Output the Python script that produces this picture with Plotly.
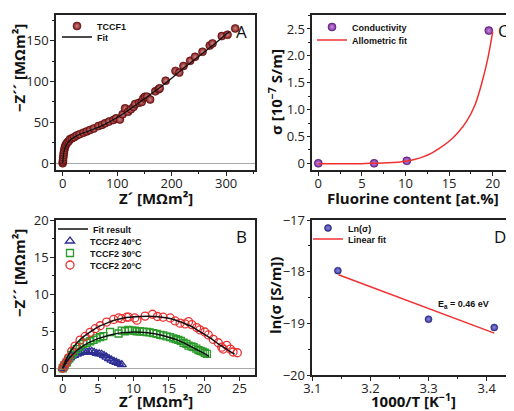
import plotly.graph_objects as go

# ---------------- Panel A data (TCCF1) ----------------
a_x = [0, 0.3, 0.6, 1, 1.5, 2, 2.8, 3.8, 5, 6.5, 8.5, 11, 13.4, 17, 21, 25.7, 31, 38, 44, 50,
       57, 65.5, 72, 77.8, 85, 93, 98, 105, 110, 114.5, 120, 125, 130, 133, 140, 145, 148, 151,
       155, 160.5, 170, 176, 178, 189, 207, 214, 221.7, 234, 243, 256.6, 270, 275, 292, 302.6, 316.7]
a_y = [0, 2, 4, 7, 10, 13, 16, 19, 21.5, 23.5, 25.5, 27, 29.5, 30.5, 32, 34, 35.5, 37.5, 39, 40.7,
       42.5, 45.5, 47, 48.9, 51, 53, 55, 53.5, 60, 67.2, 63, 66, 69, 72.5, 74, 75, 79.5, 81.4,
       81.5, 78, 88, 90.5, 91.7, 101, 113, 111, 119, 125.4, 130.3, 136.4, 144, 146.7, 155.6, 157.3, 165]
a_fit_x = [0, 0.5, 1, 2, 4, 8, 15, 30, 50, 75, 100, 125, 150, 175, 200, 225, 250, 275, 300, 306]
a_fit_y = [0, 4, 8, 13, 18.5, 24, 29, 35, 40, 47, 56, 67, 79, 91, 104, 118, 131, 144, 158, 161]

# ---------------- Panel B data (TCCF2) ----------------
b20_x = [0, 0.2, 0.47, 0.8, 1.27, 1.75, 2.45, 3.16, 3.87, 4.6, 5.3, 6.2, 7.2, 7.9, 8.35, 9.05, 9.3,
         10.2, 10.5, 11.65, 12.7, 13.4, 14.2, 15.2, 15.9, 16.6, 17.3, 17.8, 18.25, 18.95, 19.4, 20.1,
         20.6, 21.3, 22.0, 22.5, 22.7, 23.2, 23.7, 24.1, 24.7]
b20_y = [0, 0.4, 0.8, 1.4, 2.3, 3.0, 3.8, 4.3, 4.85, 5.35, 5.75, 6.25, 6.6, 6.8, 6.7, 6.9, 6.9,
         6.8, 6.5, 7.05, 7.3, 7.0, 6.9, 6.8, 6.4, 6.1, 6.0, 6.3, 5.9, 5.5, 5.2, 4.9,
         4.5, 3.9, 3.45, 2.85, 2.6, 3.1, 2.6, 2.2, 2.1]
b30_x = [0, 0.25, 0.57, 0.9, 1.27, 1.6, 2, 2.4, 2.9, 3.4, 3.9, 4.35, 4.8, 5.3, 5.75, 6.7, 7.9, 8.35,
         8.8, 9.3, 9.8, 10.2, 10.5, 10.9, 11.4, 11.9, 12.3, 12.8, 13.3, 13.8, 14.2, 14.7, 15.2, 15.65,
         16.0, 16.35, 16.7, 17.1, 17.5, 17.8, 18.2, 18.5, 18.9, 19.2, 19.5, 19.8, 20.1, 20.4]
b30_y = [0, 0.4, 0.8, 1.3, 1.8, 2.2, 2.6, 2.9, 3.25, 3.45, 3.65, 3.85, 4.05, 4.2, 4.35, 4.9, 4.7, 5.1,
         5.0, 5.2, 5.1, 5.1, 5.0, 5.0, 4.95, 4.9, 4.85, 4.75, 4.65, 4.5, 4.45, 4.3, 4.2, 4.05,
         3.95, 3.85, 3.7, 3.45, 3.3, 3.05, 2.95, 2.85, 2.65, 2.45, 2.35, 2.25, 2.1, 1.95]
b40_x = [0, 0.15, 0.33, 0.55, 0.8, 1.05, 1.27, 1.6, 2, 2.35, 2.7, 3.05, 3.4, 3.75, 4.1, 4.45, 4.8,
         5.15, 5.5, 5.85, 6.2, 6.55, 6.9, 7.25, 7.6, 7.95, 8.35]
b40_y = [0, 0.3, 0.6, 0.9, 1.2, 1.4, 1.6, 1.75, 1.9, 2.05, 2.15, 2.2, 2.2, 2.25, 2.3, 2.15, 2.0,
         1.95, 1.9, 1.7, 1.5, 1.3, 1.1, 0.95, 0.8, 0.65, 0.5]
b20_fit_x = [0, 0.5, 1, 2, 3, 4, 5, 6, 7, 8, 9, 10, 11, 12, 13, 14, 15, 16, 17, 18, 19, 20, 21, 22, 23, 24.3]
b20_fit_y = [0, 1.2, 2.1, 3.4, 4.3, 5.0, 5.6, 6.0, 6.4, 6.65, 6.85, 6.95, 7.0, 7.02, 7.0, 6.9, 6.75,
             6.5, 6.15, 5.75, 5.2, 4.6, 4.0, 3.3, 2.7, 1.9]
b30_fit_x = [0, 0.5, 1, 2, 3, 4, 5, 6, 7, 8, 9, 10, 11, 12, 13, 14, 15, 16, 17, 18, 19, 20, 20.7]
b30_fit_y = [0, 0.8, 1.45, 2.4, 3.1, 3.6, 4.0, 4.3, 4.55, 4.75, 4.85, 4.9, 4.88, 4.8, 4.65, 4.45,
             4.2, 3.9, 3.5, 3.0, 2.5, 2.0, 1.6]
b40_fit_x = [0, 0.5, 1, 2, 3, 4, 5, 6, 7, 8, 8.3]
b40_fit_y = [0, 0.9, 1.4, 1.85, 2.05, 2.1, 2.0, 1.75, 1.35, 0.85, 0.6]

# ---------------- Panel C data ----------------
c_x = [0, 6.4, 10.15, 19.55]
c_y = [0, 0, 0.045, 2.47]
c_fit_x = [0, 2, 4, 6, 8, 10, 11, 12, 13, 14, 15, 16, 17, 18, 19, 19.5, 20]
c_fit_y = [-0.01, -0.01, -0.01, 0.0, 0.01, 0.04, 0.07, 0.12, 0.19, 0.29, 0.41, 0.57, 0.78, 1.1,
           1.65, 2.0, 2.45]

# ---------------- Panel D data ----------------
d_x = [3.144, 3.300, 3.413]
d_y = [-17.98, -18.92, -19.08]
d_fit_x = [3.145, 3.413]
d_fit_y = [-18.06, -19.19]

# Axis titles: (text, centre x px, centre y px, angle)
axis_titles = [
    ("Z´ [MΩm²]", 155.5, 198, 0),
    ("−Z´´ [MΩm²]", 19, 68, -90),
    ("Fluorine content [at.%]", 413, 198, 0),
    ("σ [10<sup>−7</sup> S/m]", 276, 92, -90),
    ("Z´ [MΩm²]", 155.5, 401, 0),
    ("−Z´´ [MΩm²]", 19, 273, -90),
    ("1000/T [K<sup>−1</sup>]", 413, 400.5, 0),
    ("ln(σ [S/m])", 275, 296, -90),
]

# The page body has an 8 px default margin, so the figure is drawn 8 px in and
# sized to fill the rest of the 514x411 window.
OFF = 8
W, H = 514 - OFF, 411 - OFF


def px(x):
    return (x - OFF) / W


def py(y):
    return 1 - (y - OFF) / H


TICKFONT = dict(family="Open Sans", size=13, color="#222")
TITLEFONT = dict(family="Open Sans", size=15, color="#111", weight="bold")
LEGFONT = dict(family="Liberation Sans", size=9, color="#111", weight="bold")


def axis(letter, domain, rng, dtick, minor_dtick, mirror=True, zeroline=False,
         tickvals=None, ticktext=None, tick0=0):
    d = dict(domain=domain, range=rng, showline=True, linecolor="#222", linewidth=1.5,
             mirror=mirror, ticks="outside", ticklen=4, tickwidth=1.2, tickcolor="#222",
             dtick=dtick, tick0=tick0, showgrid=False, zeroline=zeroline, zerolinecolor="#aaa",
             zerolinewidth=1, tickfont=TICKFONT, automargin=False,
             ticklabelstandoff=-3 if letter == "x" else -1,
             minor=dict(ticks="outside", ticklen=2.5, tickwidth=1.2, tickcolor="#222",
                        dtick=minor_dtick, tick0=tick0, showgrid=False))
    if tickvals is not None:
        d["tickmode"] = "array"
        d["tickvals"] = tickvals
        d["ticktext"] = ticktext
    return d


fig = go.Figure()

# Panel A
fig.add_trace(go.Scatter(x=a_x, y=a_y, mode="markers", name="TCCF1", xaxis="x", yaxis="y",
                         legend="legend",
                         marker=dict(size=8, color="#7e1414", line=dict(width=0.6, color="#550a0a"),
                                     gradient=dict(type="radial", color="#d08a8a"))))
fig.add_trace(go.Scatter(x=a_fit_x, y=a_fit_y, mode="lines", name="Fit", xaxis="x", yaxis="y",
                         legend="legend2", line=dict(color="#111", width=1.3, shape="spline")))

# Panel C
fig.add_trace(go.Scatter(x=c_x, y=c_y, mode="markers", name="Conductivity", xaxis="x2", yaxis="y2",
                         legend="legend3",
                         marker=dict(size=8, color="#7a2a9a", line=dict(width=0.6, color="#4a1066"),
                                     gradient=dict(type="radial", color="#c890e0"))))
fig.add_trace(go.Scatter(x=c_fit_x, y=c_fit_y, mode="lines", name="Allometric fit", xaxis="x2",
                         yaxis="y2", legend="legend4",
                         line=dict(color="#f03030", width=1.5, shape="spline")))

# Panel B
fig.add_trace(go.Scatter(x=b40_fit_x, y=b40_fit_y, mode="lines", name="Fit result", xaxis="x3",
                         yaxis="y3", legend="legend5", showlegend=True,
                         line=dict(color="#111", width=1.5, shape="spline")))
fig.add_trace(go.Scatter(x=b40_x, y=b40_y, mode="markers", name="TCCF2 40°C", xaxis="x3", yaxis="y3",
                         legend="legend6",
                         marker=dict(symbol="triangle-up-open", size=8, color="#2e2e96",
                                     line=dict(width=1.3))))
fig.add_trace(go.Scatter(x=b30_x, y=b30_y, mode="markers", name="TCCF2 30°C", xaxis="x3", yaxis="y3",
                         legend="legend7",
                         marker=dict(symbol="square-open", size=7, color="#2a9a2a",
                                     line=dict(width=1.3))))
fig.add_trace(go.Scatter(x=b20_x, y=b20_y, mode="markers", name="TCCF2 20°C", xaxis="x3", yaxis="y3",
                         legend="legend8",
                         marker=dict(symbol="circle-open", size=8, color="#e83030",
                                     line=dict(width=1.3))))
fig.add_trace(go.Scatter(x=b30_fit_x, y=b30_fit_y, mode="lines", name="Fit result", xaxis="x3",
                         yaxis="y3", showlegend=False,
                         line=dict(color="#111", width=1.5, shape="spline")))
fig.add_trace(go.Scatter(x=b20_fit_x, y=b20_fit_y, mode="lines", name="Fit result", xaxis="x3",
                         yaxis="y3", showlegend=False,
                         line=dict(color="#111", width=1.5, shape="spline")))

# Panel D
fig.add_trace(go.Scatter(x=d_x, y=d_y, mode="markers", name="Ln(σ)", xaxis="x4", yaxis="y4",
                         legend="legend9",
                         marker=dict(size=7, color="#30309a", line=dict(width=0.5, color="#1a1a60"),
                                     gradient=dict(type="radial", color="#9090e0"))))
fig.add_trace(go.Scatter(x=d_fit_x, y=d_fit_y, mode="lines", name="Linear fit", xaxis="x4",
                         yaxis="y4", legend="legend10", line=dict(color="#f03030", width=1.5)))

dom_ax = [px(56), px(255)]
dom_cx = [px(312.3), 1.0]
dom_top = [py(170), py(14.7)]
dom_bot = [py(375), py(220)]

leg_common = dict(font=LEGFONT, bgcolor="rgba(0,0,0,0)", borderwidth=0, xanchor="left",
                  yanchor="middle", tracegroupgap=0)

# (legend name, left x in px, row centre y in px)
legend_pos = [("legend", 57, 26), ("legend2", 57, 37),
              ("legend3", 312, 27), ("legend4", 312, 40),
              ("legend5", 53, 229), ("legend6", 50, 241), ("legend7", 50, 253), ("legend8", 50, 265),
              ("legend9", 308, 228), ("legend10", 308, 239)]
legends = {name: dict(leg_common, x=px(lx), y=py(ly)) for name, lx, ly in legend_pos}

fig.update_layout(
    width=W, height=H, autosize=False,
    margin=dict(l=0, r=0, t=0, b=0),
    paper_bgcolor="white", plot_bgcolor="white",
    xaxis=axis("x", dom_ax, [-12.3, 353], 100, 50),
    yaxis=axis("y", dom_top, [-8.2, 181.8], 50, 25, zeroline=True),
    xaxis2=dict(axis("x", dom_cx, [-0.69, 22.44], 5, 2.5), anchor="y2"),
    yaxis2=dict(axis("y", dom_top, [-0.125, 2.766], 0.5, 0.25, mirror=False,
                     tickvals=[0, 0.5, 1.0, 1.5, 2.0, 2.5],
                     ticktext=["0", "0.5", "1.0", "1.5", "2.0", "2.5"]), anchor="x2"),
    xaxis3=dict(axis("x", dom_ax, [-0.95, 27.2], 5, 2.5), anchor="y3"),
    yaxis3=dict(axis("y", dom_bot, [-0.91, 20.04], 5, 2.5, zeroline=True), anchor="x3"),
    xaxis4=dict(axis("x", dom_cx, [3.1, 3.447], 0.1, 0.05, tick0=3.1), anchor="y4"),
    yaxis4=dict(axis("y", dom_bot, [-20, -17], 1, 0.5, mirror=False), anchor="x4"),
    showlegend=True,
    **legends,
)

for text, tx, ty, ang in axis_titles:
    fig.add_annotation(text=text, x=px(tx), y=py(ty), xref="paper", yref="paper",
                       showarrow=False, xanchor="center", yanchor="middle", textangle=ang,
                       font=TITLEFONT)

letters = [("A", 241.7, 31.7), ("C", 503, 30.7), ("B", 241.7, 236.7), ("D", 500, 236.7)]
for t, lx, ly in letters:
    fig.add_annotation(text=t, x=px(lx), y=py(ly), xref="paper", yref="paper", showarrow=False,
                       xanchor="center", yanchor="middle",
                       font=dict(family="Open Sans", size=17, color="#111"))

fig.add_annotation(text="E<sub>a</sub> = 0.46 eV", x=3.3595, y=-18.63, xref="x4", yref="y4",
                   showarrow=False, xanchor="center", yanchor="middle",
                   font=dict(family="Liberation Sans", size=9, color="#111", weight="bold"))

fig.write_html("out.html")
